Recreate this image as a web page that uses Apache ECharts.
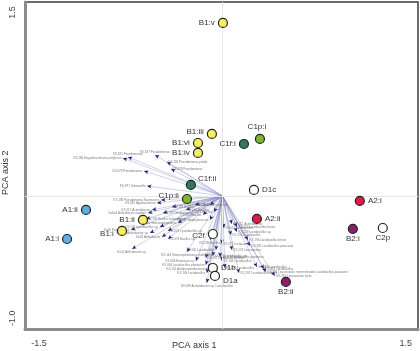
<!DOCTYPE html>
<html><head><meta charset="utf-8">
<script src="https://cdn.jsdelivr.net/npm/echarts@6/dist/echarts.min.js"></script>
<style>html,body{margin:0;padding:0;background:#fff}#c{width:420px;height:351px}</style>
</head><body><div id="c"></div>
<script>
// Sample scores (PCA axis 1, PCA axis 2)
const sampleNames = ['B1:v','B1:iii','B1:vi','B1:iv','C1p:i','C1f:i','C1f:ii','C1p:ii','A1:ii','A1:i','B1:ii','B1:i','C2f','D1c','A2:i','A2:ii','B2:i','C2p','D1b','D1a','B2:ii'];
const sampleX = [0.004,-0.086,-0.200,-0.200,0.307,0.176,-0.258,-0.290,-1.116,-1.271,-0.650,-0.822,-0.078,0.258,1.124,0.282,1.067,1.312,-0.078,-0.061,0.519];
const sampleY = [1.415,0.507,0.433,0.352,0.466,0.425,0.090,-0.025,-0.114,-0.352,-0.196,-0.286,-0.311,0.049,-0.041,-0.188,-0.270,-0.262,-0.589,-0.654,-0.703];
const sampleGroup = ['B1','B1','B1','B1','C1p','C1f','C1f','C1p','A1','A1','B1','B1','C2','D1','A2','A2','B2','C2','D1','D1','B2'];

// Species (variable) loadings
const speciesNames = ['KX.286 Exiguobacterium acetylicum','KX.181 Pseudomonas','KX.187 Pseudomonas','KX.184 Pseudomonas putida','KX.028 Pseudomonas','KX.078 Pseudomonas','KX.1P1 Salmonella',
 'KX.186 Pseudomonas fluorescens','KX.081 Agrobacterium','KX.217 Acinetobacter','Ka9a4 Arthrobacter oxydans','KX.1P7 Enterobacter','KX.193 Bacillus','KX.064 Bacillus','KX.183 Bacillus cereus',
 'KX.158 Bacillus licheniformis','KX.016 Stenotrophomonas','KX.171 Lysinibacillus sp.','Ka46 Paenibacillus','KX.169 Arthrobacter sp.','Ka63 Arthrobacter','KX.075 Lysinibacillus sp.','KX.073 Bacillus sp.',
 'Ka52 Arthrobacter sp.','KX.144 Stenotrophomonas maltophilia','KX.096 Enterococcus','KX.094 Lactobacillus plantarum','KX.101 Acidipropionibacterium','KX.109 Lactobacillus','KX.099 Acinetobacter sp. Lactobacillus',
 'KX.061 Bacillus','KX.047 Staphylococcus','KX.289 Bacillus','KX.271 Lactococcus','KX.145 Lactobacillus','KX.178 Lactobacillus sp.','KX.097 Lactobacillus brevis','KX.011 Lactobacillus',
 'KX.012 Acinetobacter','KX.126 Lactobacillus brevis','KX.129 Lactobacillus sp.','KX.154 Lactobacillus','KX.196 Lactobacillus brevis','KX.185 Lactobacillus paracasei','KX.174 Leuconostoc','KX.151 Lactobacillus plantarum',
 'KX.163 Lactobacillus','KX.1P8 Lysinibacillus','KX.281 Lactobacillus','KX.284 Leuconostoc mesenteroides Lactobacillus paracasei','KX.291 Leuconostoc lactis','KX.297 Lactobacillus brevis','KX.220 Lactobacillus',
 'KX.071 Bacillus','KX.118 Bacillus'];
const speciesX = [-0.814,-0.773,-0.552,-0.454,-0.421,-0.642,-0.617,
 -0.503,-0.536,-0.576,-0.609,-0.487,-0.413,-0.298,-0.225,
 -0.626,-0.364,-0.511,-0.748,-0.593,-0.495,-0.446,-0.446,
 -0.740,-0.290,-0.217,-0.135,-0.110,-0.127,-0.127,
 -0.159,-0.102,-0.102,-0.004,-0.053,-0.078,-0.135,0.012,
 0.078,0.119,0.119,0.070,0.209,0.225,0.078,-0.020,
 -0.004,0.282,0.339,0.356,0.429,0.135,0.020,
 -0.102,-0.069];
const speciesY = [0.311,0.319,0.335,0.278,0.221,0.204,0.082,
 -0.033,-0.057,-0.114,-0.139,-0.139,-0.090,-0.114,-0.074,
 -0.188,-0.221,-0.253,-0.278,-0.303,-0.335,-0.286,-0.352,
 -0.433,-0.458,-0.531,-0.564,-0.597,-0.630,-0.711,
 -0.155,-0.196,-0.360,-0.392,-0.442,-0.491,-0.507,-0.262,
 -0.229,-0.253,-0.294,-0.319,-0.360,-0.409,-0.442,-0.499,
 -0.531,-0.581,-0.597,-0.621,-0.654,-0.630,-0.589,
 -0.074,-0.131];

const xTickValues = [-1.5, 1.5];
const yTickValues = [1.5, -1.0];
const xAxisTitle = 'PCA axis 1';
const yAxisTitle = 'PCA axis 2';

// ---- styling ----
const groupColors = {A1:'#5cb0e4',A2:'#e2184c',B1:'#f5ee62',B2:'#8a1f6d',C1f:'#2f7a5c',C1p:'#7bb631',C2:'#ffffff',D1:'#ffffff'};
const sampleLabelStyle = {
  'B1:v':['left',[0,0]],'B1:iii':['left',[0,-2]],'B1:vi':['left',[0,0]],'B1:iv':['left',[0,0]],
  'C1p:i':['top',[-3,0]],'C1f:i':['left',[0,0]],'C1f:ii':['right',[-1,-6]],'C1p:ii':['left',[0,-3]],
  'A1:ii':['left',[0,0]],'A1:i':['left',[0,0]],'B1:ii':['left',[0,0]],'B1:i':['left',[0,3]],
  'C2f':['left',[0,2]],'D1c':['right',[0,0]],'A2:i':['right',[0,0]],'A2:ii':['right',[0,0]],
  'B2:i':['bottom',[0,-2]],'C2p':['bottom',[0,-2]],'D1b':['right',[0,0]],'D1a':['right',[0,5]],'B2:ii':['bottom',[0,-2]]
};
function speciesLabelPos(i){
  const left = [0,5,6,7,8,9,10,16,17,18,19,20,25,26,27,28,30,31,34,53,54];
  const top = [1,2];
  const bottom = [23,24,29,32];
  if (top.includes(i)) return 'top';
  if (bottom.includes(i)) return 'bottom';
  if (left.includes(i)) return 'left';
  return 'right';
}

const chart = echarts.init(document.getElementById('c'), null, {renderer:'canvas'});

const arrowData = speciesNames.map((n,i)=>({name:n, coords:[[0,0],[speciesX[i],speciesY[i]]]}));
const headData = speciesNames.map((n,i)=>({name:n, value:[speciesX[i],speciesY[i]],
  symbolRotate: Math.atan2(speciesY[i],speciesX[i])*180/Math.PI - 90}));
const speciesLabelData = speciesNames.map((n,i)=>({name:n, value:[speciesX[i],speciesY[i]],
  label:{position:speciesLabelPos(i)}}));
const sampleData = sampleNames.map((n,i)=>({name:n, value:[sampleX[i],sampleY[i]],
  itemStyle:{color:groupColors[sampleGroup[i]]},
  label:{position:sampleLabelStyle[n][0], offset:sampleLabelStyle[n][1]}}));

chart.setOption({
  animation:false,
  backgroundColor:'#ffffff',
  grid:{left:25,right:2,top:2,bottom:22,show:true,borderColor:'#3c3c3c',borderWidth:1.5,containLabel:false},
  xAxis:{type:'value',min:-1.615,max:1.6,
    axisLine:{show:true,onZero:false,lineStyle:{color:'#8c8c8c',width:3}},
    axisTick:{show:false},splitLine:{show:false},
    axisLabel:{customValues:xTickValues,formatter:v=>v.toFixed(1),fontSize:9,color:'#444',margin:10,fontFamily:'Liberation Sans'}},
  yAxis:{type:'value',min:-1.088,max:1.586,
    axisLine:{show:true,onZero:false,lineStyle:{color:'#8c8c8c',width:3}},
    axisTick:{show:false},splitLine:{show:false},
    axisLabel:{customValues:yTickValues,formatter:v=>v.toFixed(1),rotate:90,fontSize:9,color:'#444',margin:8,fontFamily:'Liberation Sans'}},
  graphic:[
    {type:'text',left:172,top:341,style:{text:xAxisTitle,fontSize:9,fill:'#333',fontFamily:'Liberation Sans'}},
    {type:'text',x:1,y:195,rotation:Math.PI/2,style:{text:yAxisTitle,fontSize:9,fill:'#333',fontFamily:'Liberation Sans',textAlign:'left',textVerticalAlign:'top'}}
  ],
  series:[
    {type:'scatter',data:[],z:1,
      markLine:{silent:true,symbol:['none','none'],label:{show:false},
        lineStyle:{color:'#e8e8e8',width:1,type:'solid'},
        data:[{xAxis:0},{yAxis:0}]}},
    {type:'lines',coordinateSystem:'cartesian2d',z:2,silent:true,
      symbol:['none','none'],
      lineStyle:{color:'#7d80c2',width:0.5,opacity:0.75,curveness:0},
      data:arrowData},
    {type:'scatter',z:3,silent:true,symbol:'arrow',symbolSize:[3,4.5],
      itemStyle:{color:'#1d1d6e',opacity:1},
      data:headData},
    {type:'scatter',z:3,silent:true,symbolSize:1,itemStyle:{color:'rgba(0,0,0,0)'},
      label:{show:true,formatter:'{b}',fontSize:3,color:'#555',distance:1,fontFamily:'Liberation Sans'},
      labelLayout:{hideOverlap:false},
      data:speciesLabelData},
    {type:'scatter',z:5,symbol:'circle',symbolSize:9,
      itemStyle:{borderColor:'#222',borderWidth:1.2,opacity:1},
      label:{show:true,formatter:'{b}',fontSize:8,color:'#333',distance:3,fontFamily:'Liberation Sans'},
      data:sampleData}
  ]
});
</script></body></html>
